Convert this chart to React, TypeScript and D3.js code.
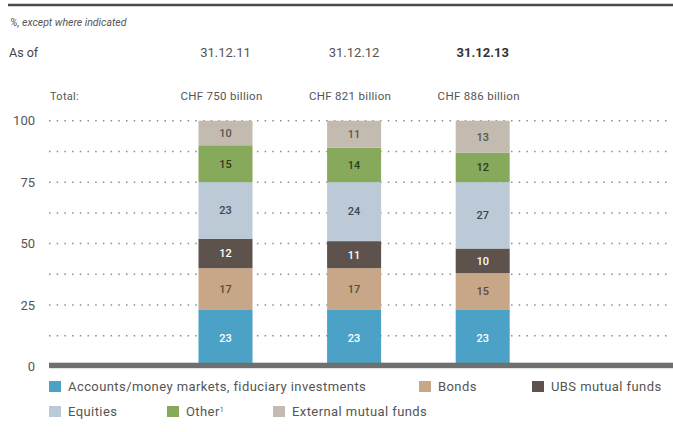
import React from 'react';
import * as d3 from 'd3';

// data
const dates = ['31.12.11', '31.12.12', '31.12.13'];
const totals = ['CHF 750 billion', 'CHF 821 billion', 'CHF 886 billion'];
const accounts = [23, 23, 23];
const bonds = [17, 17, 15];
const ubsFunds = [12, 11, 10];
const equities = [23, 24, 27];
const other = [15, 14, 12];
const external = [10, 11, 13];
const yTicks = [0, 25, 50, 75, 100];
const gridValues = [12.5, 25, 37.5, 50, 62.5, 75, 87.5, 100];

const seriesKeys = ['accounts', 'bonds', 'ubsFunds', 'equities', 'other', 'external'];
const seriesNames = [
  'Accounts/money markets, fiduciary investments',
  'Bonds',
  'UBS mutual funds',
  'Equities',
  'Other',
  'External mutual funds',
];
const colors = ['#4ba2c6', '#c8a789', '#5d524c', '#bccad8', '#87a95b', '#c4bbb0'];
const labelColors = ['#ffffff', '#5a4a3e', '#ffffff', '#3f4650', '#2f3a22', '#5a5550'];

const font = 'Roboto, "Open Sans", sans-serif';

export default function App() {
  const width = 673;
  const height = 432;

  // escalas
  const x = d3.scalePoint<string>().domain(dates).range([225.5, 482.7]);
  const y = d3.scaleLinear().domain([0, 100]).range([366.5, 120.7]);
  const barW = 54;

  const rows = dates.map((d, i) => ({
    date: d,
    accounts: accounts[i],
    bonds: bonds[i],
    ubsFunds: ubsFunds[i],
    equities: equities[i],
    other: other[i],
    external: external[i],
  }));
  const stacked = d3.stack<any>().keys(seriesKeys)(rows);

  // legend layout
  const legendPos = [
    [49, 386.5],
    [419, 386.5],
    [532, 386.5],
    [49, 411.5],
    [167, 411.5],
    [273, 411.5],
  ];

  return (
    <svg
      width={width}
      height={height}
      style={{ position: 'absolute', left: 0, top: 0, background: '#fff' }}
      fontFamily={font}
    >
      <rect width={width} height={height} fill="#fff" />
      {/* top rule */}
      <line x1={8} x2={673} y1={5} y2={5} stroke="#4a4a4a" strokeWidth={2.5} />

      <text x={10} y={26} fontSize={10.5} fontStyle="italic" fill="#555">
        %, except where indicated
      </text>
      <text x={9} y={57} fontSize={12.5} fill="#444">
        As of
      </text>
      {dates.map((d, i) => (
        <text
          key={d}
          x={x(d)}
          y={57}
          fontSize={13}
          textAnchor="middle"
          fill={i === dates.length - 1 ? '#333' : '#555'}
          fontWeight={i === dates.length - 1 ? 700 : 400}
        >
          {d}
        </text>
      ))}

      <text x={50} y={100} fontSize={11} fill="#555" letterSpacing={0.3}>
        Total:
      </text>
      {totals.map((t, i) => (
        <text
          key={t}
          x={(x(dates[i]) as number) - 4}
          y={100}
          fontSize={11.5}
          letterSpacing={0.3}
          textAnchor="middle"
          fill="#555"
        >
          {t}
        </text>
      ))}

      {/* grid */}
      {gridValues.map((v) => (
        <line
          key={v}
          x1={49}
          x2={670}
          y1={y(v)}
          y2={y(v)}
          stroke="#8c8c8c"
          strokeWidth={1.5}
          strokeDasharray="1.5 6.2"
        />
      ))}

      {/* y labels */}
      {yTicks.map((t) => (
        <text key={t} x={35} y={y(t)} dy=".35em" fontSize={13} textAnchor="end" fill="#555">
          {t}
        </text>
      ))}

      {/* bars */}
      {stacked.map((s, si) => (
        <g key={s.key}>
          {s.map((d, i) => {
            const cx = x(dates[i]) as number;
            const y0 = y(d[0]);
            const y1 = y(d[1]);
            return (
              <g key={i}>
                <rect x={cx - barW / 2} y={y1} width={barW} height={y0 - y1} fill={colors[si]} />
                <text
                  x={cx}
                  y={(y0 + y1) / 2}
                  dy=".35em"
                  fontSize={11}
                  fontWeight={500}
                  textAnchor="middle"
                  fill={labelColors[si]}
                >
                  {d[1] - d[0]}
                </text>
              </g>
            );
          })}
        </g>
      ))}

      {/* baseline */}
      <rect x={49} y={362.7} width={624} height={5.5} fill="#6e6f71" />

      {/* legend */}
      {seriesNames.map((n, i) => (
        <g key={n} transform={`translate(${legendPos[i][0]},${legendPos[i][1]})`}>
          <rect x={0} y={-5.5} width={12} height={11} fill={colors[i]} />
          <text x={19} y={0} dy=".35em" fontSize={13} letterSpacing={0.42} fill="#555">
            {n}
            {n === 'Other' ? <tspan fontSize={7} dy="-0.6em">1</tspan> : null}
          </text>
        </g>
      ))}
    </svg>
  );
}
